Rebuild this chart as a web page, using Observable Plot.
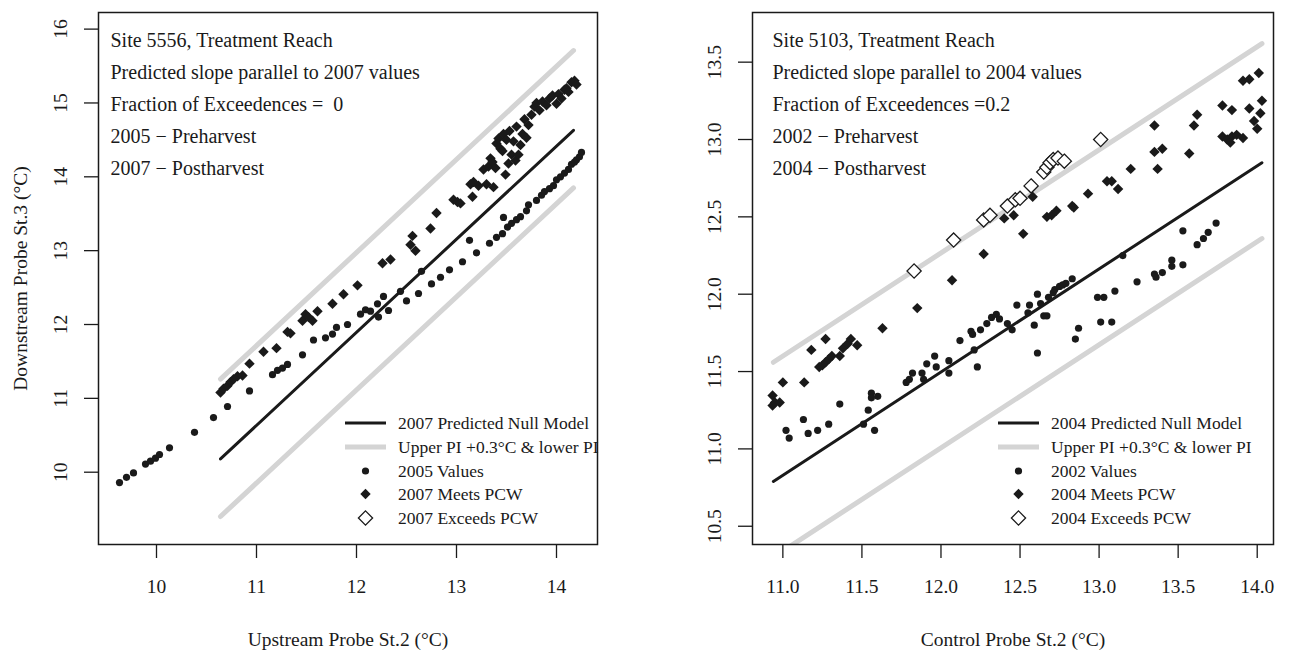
<!DOCTYPE html>
<html><head><meta charset="utf-8">
<script src="https://cdn.jsdelivr.net/npm/d3@7"></script>
<script src="https://cdn.jsdelivr.net/npm/@observablehq/plot@0.6"></script>
<style>
body{margin:0;background:#fff;}
#wrap{position:relative;width:1291px;height:661px;overflow:hidden;}
#wrap svg{position:absolute;top:0;}
</style></head><body><div id="wrap"></div>
<script>
const FONT = "Liberation Serif, Tinos, DejaVu Serif, serif";
const INK = "#1a1a1a";
const PI_GRAY = "#d4d4d4";

// ---------------- Left panel: Site 5556 ----------------
const leftTitleLines = ["Site 5556, Treatment Reach", "Predicted slope parallel to 2007 values", "Fraction of Exceedences =  0", "2005 \u2212 Preharvest", "2007 \u2212 Postharvest"];
const leftLegend = ["2007 Predicted Null Model", "Upper PI +0.3\u00b0C & lower PI", "2005 Values", "2007 Meets PCW", "2007 Exceeds PCW"];
const leftXLabel = "Upstream Probe St.2 (\u00b0C)";
const leftYLabel = "Downstream Probe St.3 (\u00b0C)";
const leftXTicks = [10, 11, 12, 13, 14];
const leftYTicks = [10, 11, 12, 13, 14, 15, 16];
const leftLineX = [10.64, 14.17];
const leftNullY = [10.18, 14.63];
const leftUpperY = [11.26, 15.71];
const leftLowerY = [9.40, 13.85];
const leftValues = [
  [9.63,9.86],[9.70,9.93],[9.77,9.99],[9.89,10.11],[9.94,10.15],[9.99,10.19],[10.03,10.24],[10.13,10.33],
  [10.38,10.54],[10.57,10.74],[10.71,10.89],[10.93,11.10],[11.16,11.32],[11.21,11.38],[11.26,11.41],[11.31,11.46],
  [11.46,11.59],[11.57,11.79],[11.69,11.82],[11.76,11.87],[11.80,11.96],[11.91,12.00],[12.04,12.14],[12.09,12.20],
  [12.14,12.18],[12.21,12.28],[12.27,12.38],[12.22,12.10],[12.32,12.19],[12.44,12.45],[12.50,12.32],[12.62,12.42],
  [12.65,12.72],[12.75,12.55],[12.84,12.64],[12.93,12.74],[13.06,12.85],[13.13,13.14],[13.20,12.97],[13.33,13.10],
  [13.40,13.18],[13.46,13.23],[13.47,13.45],[13.51,13.32],[13.55,13.37],[13.60,13.42],[13.64,13.46],[13.70,13.54],
  [13.72,13.62],[13.80,13.68],[13.85,13.75],[13.88,13.80],[13.93,13.84],[13.97,13.88],[14.00,13.96],[14.04,14.00],
  [14.08,14.05],[14.12,14.10],[14.15,14.17],[14.18,14.20],[14.20,14.23],[14.23,14.27],[14.25,14.33]
];
const leftMeets = [
  [10.64,11.08],[10.67,11.13],[10.71,11.17],[10.74,11.22],[10.77,11.26],[10.81,11.30],[10.86,11.31],[10.93,11.47],
  [11.07,11.63],[11.20,11.68],[11.31,11.90],[11.34,11.88],[11.46,12.05],[11.49,12.14],[11.52,12.10],[11.56,12.05],
  [11.61,12.18],[11.76,12.28],[11.87,12.41],[12.01,12.53],[12.26,12.83],[12.34,12.88],[12.54,13.08],[12.56,13.20],
  [12.59,13.00],[12.74,13.30],[12.80,13.51],[12.97,13.69],[13.01,13.66],[13.04,13.64],[13.14,13.90],[13.16,13.73],
  [13.17,13.93],[13.22,13.88],[13.27,14.10],[13.30,13.90],[13.32,14.14],[13.34,14.25],[13.36,14.20],[13.37,13.86],
  [13.39,14.12],[13.40,14.45],[13.42,14.52],[13.44,14.38],[13.46,14.35],[13.47,14.58],[13.49,14.03],[13.50,14.50],
  [13.52,14.18],[13.53,14.62],[13.55,14.30],[13.57,14.48],[13.59,14.22],[13.60,14.68],[13.62,14.30],[13.64,14.43],
  [13.66,14.58],[13.68,14.78],[13.70,14.53],[13.72,14.70],[13.75,14.84],[13.78,14.95],[13.80,15.00],[13.83,14.90],
  [13.86,15.02],[13.90,14.97],[13.93,15.06],[13.96,15.10],[14.00,14.99],[14.02,15.12],[14.05,15.06],[14.08,15.18],
  [14.10,15.20],[14.12,15.15],[14.15,15.28],[14.18,15.30],[14.20,15.25]
];
const leftExceeds = [];

// ---------------- Right panel: Site 5103 ----------------
const rightTitleLines = ["Site 5103, Treatment Reach", "Predicted slope parallel to 2004 values", "Fraction of Exceedences =0.2", "2002 \u2212 Preharvest", "2004 \u2212 Postharvest"];
const rightLegend = ["2004 Predicted Null Model", "Upper PI +0.3\u00b0C & lower PI", "2002 Values", "2004 Meets PCW", "2004 Exceeds PCW"];
const rightXLabel = "Control Probe St.2 (\u00b0C)";
const rightXTicks = [11.0, 11.5, 12.0, 12.5, 13.0, 13.5, 14.0];
const rightYTicks = [10.5, 11.0, 11.5, 12.0, 12.5, 13.0, 13.5];
const rightLineX = [10.94, 14.03];
const rightNullY = [10.79, 12.85];
const rightUpperY = [11.56, 13.62];
const rightLowerY = [10.30, 12.36];
const rightValues = [
  [11.02,11.12],[11.04,11.07],[11.13,11.19],[11.16,11.10],[11.22,11.12],[11.29,11.16],[11.36,11.29],[11.51,11.16],
  [11.54,11.25],[11.56,11.36],[11.56,11.33],[11.60,11.34],[11.58,11.12],[11.78,11.43],[11.80,11.45],[11.82,11.49],
  [11.88,11.49],[11.89,11.45],[11.91,11.55],[11.96,11.60],[11.97,11.53],[12.05,11.57],[12.05,11.49],[12.12,11.70],
  [12.19,11.76],[12.20,11.74],[12.21,11.64],[12.23,11.53],[12.25,11.77],[12.29,11.81],[12.32,11.85],[12.35,11.87],
  [12.37,11.84],[12.42,11.81],[12.45,11.77],[12.48,11.93],[12.55,11.88],[12.56,11.93],[12.59,11.80],[12.61,11.62],
  [12.63,11.94],[12.65,11.86],[12.67,11.86],[12.61,12.00],[12.68,11.98],[12.71,12.01],[12.72,12.03],[12.75,12.05],
  [12.77,12.06],[12.79,12.07],[12.83,12.10],[12.85,11.71],[12.87,11.78],[12.99,11.98],[13.01,11.82],[13.03,11.98],
  [13.08,11.82],[13.10,12.02],[13.15,12.25],[13.24,12.08],[13.35,12.13],[13.36,12.11],[13.40,12.14],[13.46,12.22],
  [13.46,12.18],[13.53,12.19],[13.53,12.41],[13.62,12.32],[13.66,12.36],[13.69,12.40],[13.74,12.46]
];
const rightMeets = [
  [10.935,11.345],[10.935,11.28],[10.95,11.30],[10.98,11.30],[11.00,11.43],[11.135,11.43],[11.18,11.64],[11.27,11.71],
  [11.23,11.53],[11.25,11.54],[11.27,11.56],[11.29,11.58],[11.31,11.60],[11.36,11.60],[11.38,11.65],[11.41,11.68],
  [11.43,11.71],[11.47,11.67],[11.63,11.78],[11.85,11.91],[12.07,12.09],[12.27,12.26],[12.40,12.49],[12.46,12.51],
  [12.52,12.39],[12.58,12.63],[12.67,12.50],[12.70,12.51],[12.73,12.54],[12.83,12.57],[12.84,12.56],[12.93,12.65],
  [13.05,12.73],[13.08,12.73],[13.12,12.68],[13.20,12.81],[13.37,12.81],[13.35,12.92],[13.40,12.94],[13.35,13.09],
  [13.57,12.91],[13.62,13.16],[13.60,13.09],[13.78,13.22],[13.84,13.19],[13.78,13.02],[13.81,13.00],[13.84,13.02],
  [13.87,13.03],[13.83,12.98],[13.91,13.01],[13.95,13.20],[13.98,13.12],[14.00,13.07],[14.02,13.17],[14.03,13.25],
  [13.91,13.38],[13.95,13.39],[14.01,13.43]
];
const rightExceeds = [
  [11.83,12.15],[12.08,12.35],[12.27,12.48],[12.31,12.51],[12.42,12.57],[12.47,12.61],[12.50,12.62],[12.57,12.70],
  [12.65,12.79],[12.67,12.82],[12.69,12.85],[12.71,12.87],[12.74,12.88],[12.78,12.86],[13.01,13.00]
];

function panel(cfg) {
  const line = (ys) => cfg.lineX.map((x, i) => ({x, y: ys[i]}));
  const marks = [
    Plot.line(line(cfg.upperY), {x: "x", y: "y", stroke: PI_GRAY, strokeWidth: 5, clip: true}),
    Plot.line(line(cfg.lowerY), {x: "x", y: "y", stroke: PI_GRAY, strokeWidth: 5, clip: true}),
    Plot.line(line(cfg.nullY), {x: "x", y: "y", stroke: INK, strokeWidth: 3, clip: true}),
    Plot.dot(cfg.values, {x: d => d[0], y: d => d[1], r: 3.6, fill: INK, symbol: "circle"}),
    Plot.dot(cfg.meets, {x: d => d[0], y: d => d[1], r: 4.7, fill: INK, symbol: "diamond2"}),
    Plot.dot(cfg.exceeds, {x: d => d[0], y: d => d[1], r: 6.4, fill: "white", stroke: INK, strokeWidth: 1.3, symbol: "diamond2"}),
    Plot.frame({stroke: INK, strokeWidth: 1.5}),
    Plot.axisX({ticks: cfg.xTicks, tickSize: 14, tickFormat: () => "", stroke: INK, strokeWidth: 1.3, label: null}),
    Plot.axisY({ticks: cfg.yTicks, tickSize: 14, tickFormat: () => "", stroke: INK, strokeWidth: 1.3, label: null}),
    Plot.text(cfg.xTicks, {x: d => d, text: cfg.fmt, frameAnchor: "bottom", lineAnchor: "middle", dy: 42, fontSize: 19.5, fill: INK}),
    Plot.text(cfg.yTicks, {y: d => d, text: cfg.fmt, frameAnchor: "left", textAnchor: "middle", lineAnchor: "middle", dx: -38, rotate: -90, fontSize: 19.5, fill: INK}),
    Plot.text([cfg.xLabel], {text: d => d, frameAnchor: "bottom", lineAnchor: "middle", dy: 95, fontSize: 19.5, fill: INK}),
    Plot.text([cfg.titleLines.join("\n")], {text: d => d, frameAnchor: "top-left", textAnchor: "start", lineAnchor: "top", lineHeight: 1.6, dx: cfg.textDx, dy: 12, fontSize: 20, fill: INK})
  ];
  if (cfg.yLabel) marks.push(Plot.text([cfg.yLabel], {text: d => d, frameAnchor: "left", textAnchor: "middle", lineAnchor: "middle", dx: -78, rotate: -90, fontSize: 19.5, fill: INK}));
  const svg = Plot.plot({
    width: cfg.width, height: 661,
    marginLeft: cfg.ml, marginRight: cfg.mr, marginTop: 12, marginBottom: 117,
    x: {domain: cfg.xDomain}, y: {domain: cfg.yDomain},
    style: {fontFamily: FONT, background: "white", overflow: "visible", color: INK},
    marks
  });
  // legend (bottom right of plot area)
  const g = d3.select(svg).append("g").attr("font-family", FONT).attr("font-size", 17.5).attr("fill", INK).attr("text-anchor", "start");
  const rowY = [423, 447, 471, 494, 518];
  const sx0 = cfg.legX, sx1 = cfg.legX + 41, cx = cfg.legX + 20.5, tx = cfg.legX + 53;
  const diamond = (r) => `M0,${-r}L${r},0L0,${r}L${-r},0Z`;
  g.append("line").attr("x1", sx0).attr("x2", sx1).attr("y1", rowY[0]).attr("y2", rowY[0]).attr("stroke", INK).attr("stroke-width", 3);
  g.append("line").attr("x1", sx0).attr("x2", sx1).attr("y1", rowY[1]).attr("y2", rowY[1]).attr("stroke", PI_GRAY).attr("stroke-width", 5);
  g.append("circle").attr("cx", cx).attr("cy", rowY[2]).attr("r", 3.6).attr("fill", INK);
  g.append("path").attr("d", diamond(5.2)).attr("transform", `translate(${cx},${rowY[3]})`).attr("fill", INK);
  g.append("path").attr("d", diamond(7.1)).attr("transform", `translate(${cx},${rowY[4]})`).attr("fill", "white").attr("stroke", INK).attr("stroke-width", 1.3);
  cfg.legend.forEach((t, i) => g.append("text").attr("x", tx).attr("y", rowY[i]).attr("dy", "0.35em").text(t));
  svg.style.left = cfg.left + "px";
  return svg;
}

const wrap = document.getElementById("wrap");
wrap.appendChild(panel({
  left: 0, width: 645, ml: 98, mr: 48,
  xDomain: [9.42, 14.41], yDomain: [9.021, 16.225],
  lineX: leftLineX, nullY: leftNullY, upperY: leftUpperY, lowerY: leftLowerY,
  values: leftValues, meets: leftMeets, exceeds: leftExceeds,
  xTicks: leftXTicks, yTicks: leftYTicks, fmt: d => d3.format("d")(d),
  xLabel: leftXLabel, yLabel: leftYLabel, titleLines: leftTitleLines, textDx: 12,
  legend: leftLegend, legX: 345
}));
wrap.appendChild(panel({
  left: 645, width: 646, ml: 107, mr: 18,
  xDomain: [10.808, 14.103], yDomain: [10.382, 13.821],
  lineX: rightLineX, nullY: rightNullY, upperY: rightUpperY, lowerY: rightLowerY,
  values: rightValues, meets: rightMeets, exceeds: rightExceeds,
  xTicks: rightXTicks, yTicks: rightYTicks, fmt: d => d3.format(".1f")(d),
  xLabel: rightXLabel, yLabel: null, titleLines: rightTitleLines, textDx: 20,
  legend: rightLegend, legX: 353
}));
</script></body></html>
